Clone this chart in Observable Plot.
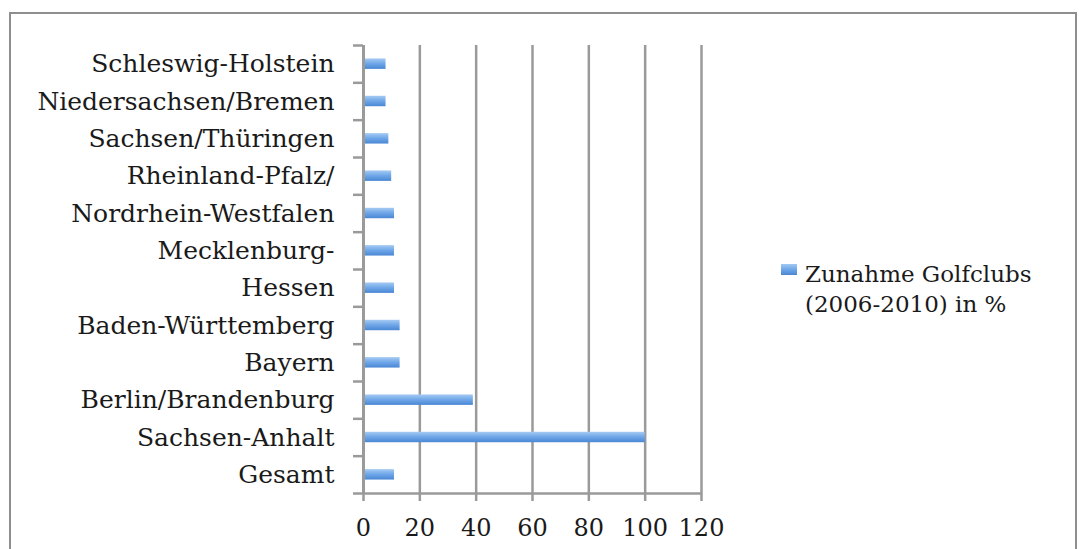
<!DOCTYPE html>
<html><head><meta charset="utf-8">
<script src="https://cdn.jsdelivr.net/npm/d3@7"></script>
<script src="https://cdn.jsdelivr.net/npm/@observablehq/plot@0.6"></script>
<style>
html,body{margin:0;padding:0;background:#fff;}
#wrap{position:relative;width:1079px;height:549px;overflow:hidden;background:#fff;}
#chart{position:absolute;left:0;top:0;}
#frame{position:absolute;left:9px;top:12px;width:1068px;height:600px;border:2px solid #8e8e8e;box-sizing:border-box;pointer-events:none;}
#legend{position:absolute;left:781px;top:259px;font-family:"DejaVu Serif";font-size:23px;color:#1a1a1a;line-height:30px;}
#legend .sw{position:absolute;left:0;top:5px;width:16px;height:11px;background:linear-gradient(#a3c8f2,#6aa3e6 55%,#4a86d4);}
#legend .tx{margin-left:24px;white-space:nowrap;}
</style></head><body>
<div id="wrap"><div id="chart"></div><div id="frame"></div>
<div id="legend"><div class="sw"></div><div class="tx">Zunahme Golfclubs<br>(2006-2010) in %</div></div></div>
<script>
const categories = ["Schleswig-Holstein","Niedersachsen/Bremen","Sachsen/Thüringen","Rheinland-Pfalz/","Nordrhein-Westfalen","Mecklenburg-","Hessen","Baden-Württemberg","Bayern","Berlin/Brandenburg","Sachsen-Anhalt","Gesamt"];
const values = [8, 8, 9, 10, 11, 11, 11, 13, 13, 39, 100, 11];
const xTicks = [0, 20, 40, 60, 80, 100, 120];

const data = categories.map((c, i) => ({region: c, value: values[i]}));
const p = 0.72;
const marginTop = 45, marginBottom = 56, H = 549;
const step = (H - marginTop - marginBottom) / categories.length;
const grey = "#9a9a9a";

const chart = Plot.plot({
  width: 1079, height: H,
  marginLeft: 363, marginRight: 378, marginTop, marginBottom,
  style: {fontFamily: "DejaVu Serif", fontSize: "24px", color: "#1a1a1a", background: "transparent"},
  x: {domain: [0, 120], ticks: xTicks},
  y: {domain: categories, paddingInner: p, paddingOuter: p / 2, round: false},
  marks: [
    Plot.ruleX(xTicks.filter(d => d > 0), {stroke: grey, strokeWidth: 2.5}),
    Plot.barX(data, {x: "value", y: "region", fill: "url(#barGrad)"}),
    Plot.ruleX([0], {stroke: grey, strokeWidth: 3}),
    Plot.axisY({tickSize: 0, tickPadding: 29, fontSize: 25, label: null, fill: "#1a1a1a"}),
    Plot.axisY({tickSize: 10, text: null, label: null, dy: -step / 2, stroke: grey, strokeWidth: 2.5}),
    Plot.axisY([categories[categories.length - 1]], {tickSize: 10, text: null, label: null, dy: step / 2, stroke: grey, strokeWidth: 2.5}),
    Plot.axisX({ticks: xTicks, tickSize: 8, tickPadding: 17, label: null, stroke: grey, strokeWidth: 2.5, fontSize: 24, fill: "#1a1a1a"}),
    Plot.ruleY([categories[categories.length - 1]], {x1: 0, x2: 120, dy: step / 2, stroke: grey, strokeWidth: 2.5})
  ]
});

const defs = document.createElementNS("http://www.w3.org/2000/svg", "defs");
defs.innerHTML = `<linearGradient id="barGrad" x1="0" y1="0" x2="0" y2="1">
  <stop offset="0" stop-color="#a6cbf3"/><stop offset="0.5" stop-color="#6ea6e8"/><stop offset="1" stop-color="#4a86d4"/></linearGradient>`;
chart.insertBefore(defs, chart.firstChild);
document.getElementById("chart").appendChild(chart);
</script>
</body></html>
